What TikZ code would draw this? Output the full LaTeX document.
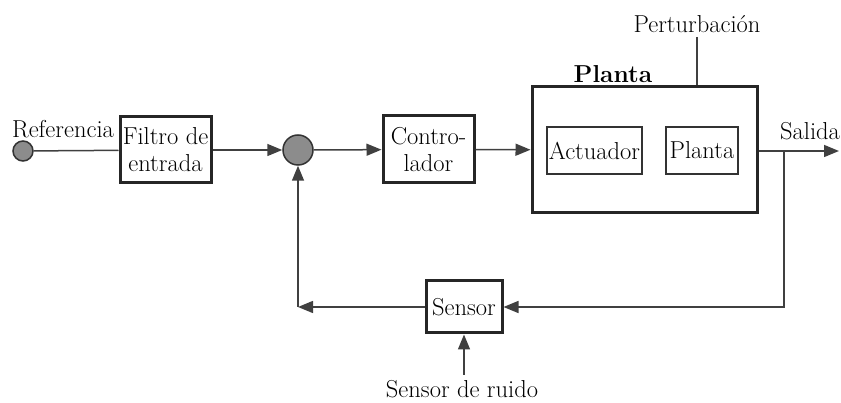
\documentclass[tikz,border=0pt]{standalone}
\usetikzlibrary{arrows.meta}
\begin{document}
\begin{tikzpicture}[x=1pt,y=-1pt,
  fnt/.style={font=\fontsize{24.5}{27}\selectfont},
  txt/.style={fnt, inner sep=0pt},
  thickbox/.style={fnt, draw=black!85, line width=3pt, inner sep=0pt, align=center},
  thinbox/.style={fnt, draw=black!80, line width=1.5pt, inner sep=0pt, align=center},
  dot/.style={circle, draw=black!80, fill=black!45, line width=1.5pt, inner sep=0pt},
  conn/.style={draw=black!75, line width=1.5pt},
  arr/.style={conn, -{Triangle[length=15pt,width=12pt]}}
]
\useasboundingbox (0,0) rectangle (841,403);
% nodes
\node[dot, minimum size=20pt] (ref) at (23,151) {};
\node[txt] (reflbl) at (63,129) {Referencia};
\node[thickbox, minimum width=91pt, minimum height=66pt] (filt) at (165.5,150) {Filtro de\\entrada};
\node[dot, minimum size=30pt] (sum) at (298,150) {};
\node[thickbox, minimum width=91pt, minimum height=67pt] (ctrl) at (428.5,149.5) {Contro-\\lador};
\node[thickbox, minimum width=225pt, minimum height=126pt] (plant) at (644.5,150) {};
\node[txt, font=\fontsize{24.5}{27}\selectfont\bfseries] (plantlbl) at (613,74) {Planta};
\node[thinbox, minimum width=95pt, minimum height=47pt] (act) at (594.5,150.5) {Actuador};
\node[thinbox, minimum width=72pt, minimum height=47pt] (pin) at (702,150.5) {Planta};
\node[txt] (pert) at (697,24) {Perturbación};
\node[txt] (sal) at (810,131) {Salida};
\node[thickbox, minimum width=76pt, minimum height=52pt] (sens) at (464,307) {Sensor};
\node[txt] (noise) at (462,389) {Sensor de ruido};
% coordinates
\coordinate (br) at (784,151);
\coordinate (out) at (839,151);
\coordinate (brd) at (784,307);
\coordinate (lc) at (298,307);
\coordinate (pt) at (697,37);
\coordinate (nb) at (464,375);
% connectors
\draw[conn] (ref) -- (filt);
\draw[arr] (filt) -- (sum);
\draw[arr] (sum) -- (ctrl);
\draw[arr] (ctrl) -- (plant);
\draw[conn] (pt) -- (pt |- plant.north);
\draw[arr] (plant.east |- br) -- (out);
\draw[arr] (br) -- (brd) -- (sens);
\draw[arr] (sens) -- (lc);
\draw[arr] (lc) -- (sum);
\draw[arr] (nb) -- (sens);
\end{tikzpicture}
\end{document}
